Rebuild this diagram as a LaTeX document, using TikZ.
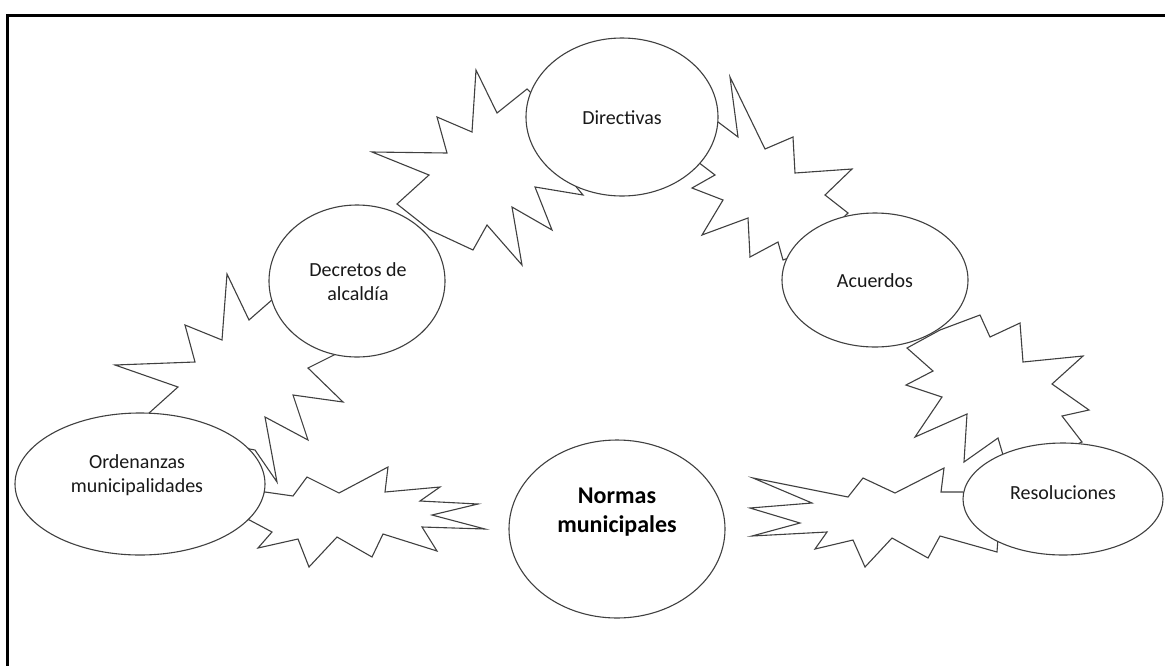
\documentclass[tikz,border=0pt]{standalone}
\usepackage{fontspec}
\setmainfont{Carlito}
\usetikzlibrary{shapes.geometric}
\begin{document}
\begin{tikzpicture}[x=1pt,y=-1pt,
  burst/.style={draw=black!75,line width=1.1pt,fill=white,line join=miter},
  oval/.style={ellipse,draw=black!75,line width=1.1pt,fill=white,inner sep=0pt},
  lbl/.style={align=center,text=black!90,font=\fontsize{20}{24}\selectfont},
  lblbig/.style={align=center,text=black,font=\fontsize{24}{29}\selectfont\bfseries}]
\useasboundingbox (0,0) rectangle (1165,665);
\fill[white] (0,0) rectangle (1165,665);
% frame (top and left edges)
\draw[line width=3pt,line cap=rect] (1170,15) -- (7,15) -- (7,670);

% starbursts linking the ovals
\draw[burst] (148,414) -- (178,387) -- (115,365) -- (195,362) -- (185,325) -- (222,340)
  -- (227,274) -- (249,320) -- (273,299) -- (310,320) -- (340,352) -- (308,368)
  -- (343,402) -- (293,395) -- (308,440) -- (265,417) -- (277,482) -- (255,450)
  -- (200,440) -- cycle;
\draw[burst] (397,204) -- (429,175) -- (372,152) -- (447,153) -- (437,117) -- (472,132)
  -- (476,70) -- (497,113) -- (527,89) -- (560,120) -- (573,183) -- (583,195)
  -- (535,187) -- (552,230) -- (512,207) -- (522,265) -- (487,225) -- (473,250)
  -- (430,230) -- cycle;
\draw[burst] (718,122) -- (738,137) -- (730,77) -- (765,149) -- (793,137) -- (795,173)
  -- (852,169) -- (825,195) -- (848,213) -- (810,250) -- (783,260) -- (778,242)
  -- (750,257) -- (748,218) -- (702,235) -- (723,200) -- (692,188) -- (715,175)
  -- (698,162) -- (700,140) -- cycle;
\draw[burst] (980,315) -- (990,337) -- (1020,323) -- (1023,362) -- (1083,356) -- (1052,384)
  -- (1089,410) -- (1062,416) -- (1082,442) -- (1040,460) -- (1003,455) -- (998,438)
  -- (964,462) -- (967,414) -- (915,437) -- (942,397) -- (906,385) -- (933,371)
  -- (907,348) -- (940,330) -- cycle;
\draw[burst] (265,492) -- (293,496) -- (307,477) -- (339,493) -- (388,467) -- (385,492)
  -- (440,487) -- (420,501) -- (478,504) -- (432,515) -- (485,529) -- (422,527)
  -- (437,551) -- (383,534) -- (372,557) -- (337,537) -- (309,567) -- (298,539)
  -- (258,548) -- (272,532) -- (240,515) -- cycle;
\draw[burst] (963,492) -- (941,492) -- (944,468) -- (895,493) -- (863,478) -- (848,497)
  -- (753,478) -- (812,503) -- (750,508) -- (800,523) -- (752,536) -- (827,532)
  -- (815,549) -- (853,540) -- (865,567) -- (892,538) -- (928,558) -- (940,536)
  -- (997,552) -- (1000,510) -- cycle;

% ovals
\node[oval,minimum width=192pt,minimum height=158pt] (dir) at (622,117) {};
\node[oval,minimum width=176pt,minimum height=152pt] (dec) at (357,281) {};
\node[oval,minimum width=186pt,minimum height=134pt] (acu) at (875,280) {};
\node[oval,minimum width=250pt,minimum height=142pt] (ord) at (140,484) {};
\node[oval,minimum width=216pt,minimum height=178pt] (nor) at (617,529) {};
\node[oval,minimum width=200pt,minimum height=112pt] (res) at (1063,499) {};

% labels
\node[lbl] (tdir) at (622,118) {Directivas};
\node[lbl] (tdec) at (358,282) {Decretos de\\alcaldía};
\node[lbl] (tacu) at (875,281) {Acuerdos};
\node[lbl] (tord) at (137,475) {Ordenanzas\\municipalidades};
\node[lblbig] (tnor) at (617,512) {Normas\\municipales};
\node[lbl] (tres) at (1063,493) {Resoluciones};
\end{tikzpicture}
\end{document}
